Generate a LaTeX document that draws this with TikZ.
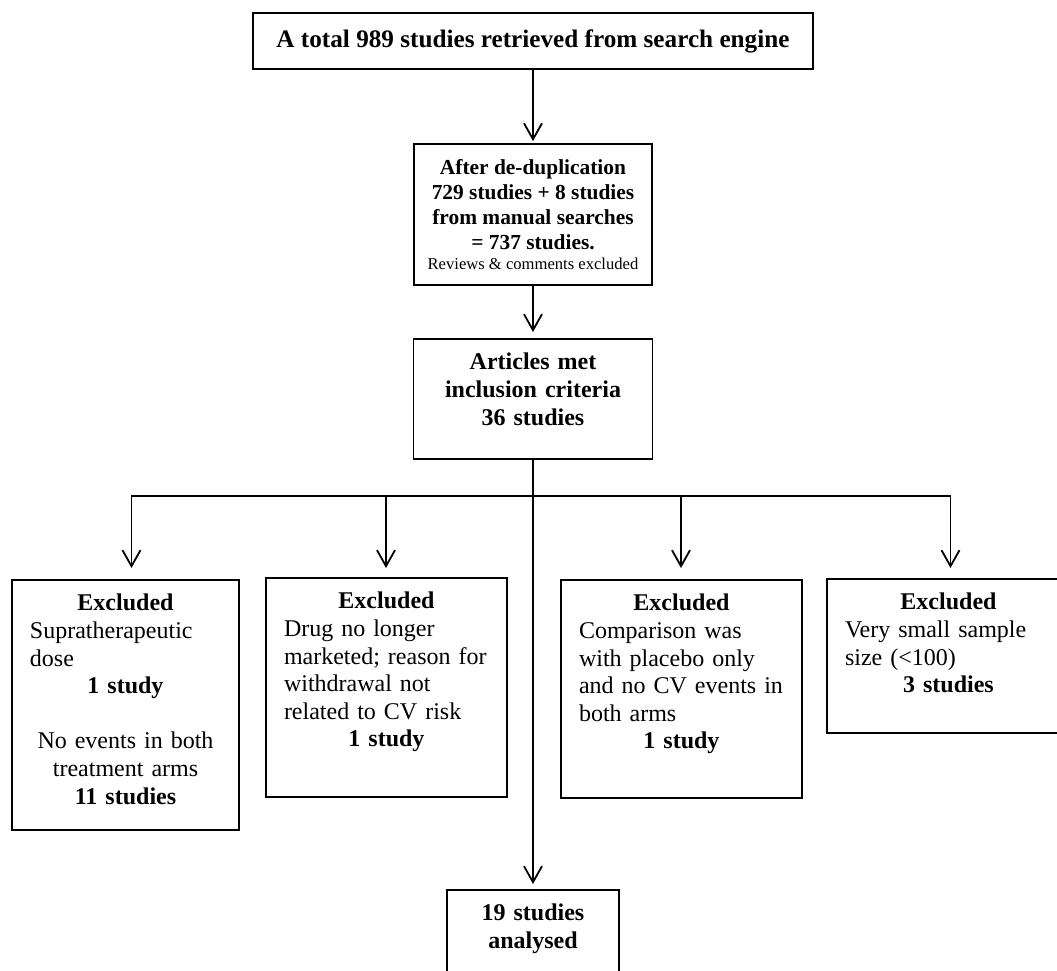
\documentclass[tikz,border=0pt]{standalone}
\usepackage{fontspec}
\setmainfont{Liberation Serif}
\usepackage{tikz}
\usetikzlibrary{arrows.meta,positioning}
\newcommand{\flowfont}{\fontsize{12}{13.8}\selectfont}
\tikzset{barb/.tip={Straight Barb[length=8pt, width=9pt]}}

\begin{document}
\begin{tikzpicture}[x=0.5pt, y=-0.5pt,
  frame/.style={draw=black, line width=0.9pt, inner ysep=0pt, font=\flowfont},
  plain/.style={frame, align=center, inner xsep=0pt},
  hang/.style 2 args={frame, text width=#1, text height=15.5pt, text depth=#2},
  excl/.style 2 args={hang={#1}{#2}, align=left, inner xsep=9pt, anchor=north},
  arr/.style={-barb, line width=0.9pt},
  link/.style={line width=0.9pt}
]
  \useasboundingbox (0,0) rectangle (1057,971);

  \node[plain, minimum width=280pt, minimum height=28pt,
    font=\fontsize{12.6}{14.5}\selectfont\bfseries] (search) at (533,41)
    {A total 989 studies retrieved from search engine};
  \node[plain, minimum width=119pt, minimum height=70.5pt,
    font=\fontsize{10.7}{12.5}\selectfont\bfseries] (dedup) at (533,214.5)
    {After de-duplication\\729 studies + 8 studies\\from manual searches\\= 737 studies.\\[-2.5pt]
     {\fontsize{8.3}{10}\selectfont\mdseries Reviews \& comments excluded}};
  \node[hang={119.5pt}{44.5pt}, align=center, inner xsep=0pt, anchor=north,
    font=\flowfont\bfseries] (incl) at (533,338)
    {Articles met\\inclusion criteria\\36 studies};

  \node[excl={95.5pt}{109.5pt}] (ex1) at (125.5,579) {%
    \centerline{\bfseries Excluded}
    Supratherapeutic\\dose\par
    \centerline{\bfseries 1 study}
    \centerline{}
    \centerline{No events in both}
    \centerline{treatment arms}
    \centerline{\bfseries 11 studies}};
  \node[excl={102.5pt}{94pt}] (ex2) at (386.5,577) {%
    \centerline{\bfseries Excluded}
    Drug no longer\\marketed; reason for\\withdrawal not\\related to CV risk\par
    \centerline{\bfseries 1 study}};
  \node[excl={102.5pt}{93.5pt}] (ex3) at (681.5,579) {%
    \centerline{\bfseries Excluded}
    Comparison was\\with placebo only\\and no CV events in\\both arms\par
    \centerline{\bfseries 1 study}};
  \node[excl={103.5pt}{61.5pt}] (ex4) at (948.5,578) {%
    \centerline{\bfseries Excluded}
    Very small sample\\size (<100)\par
    \centerline{\bfseries 3 studies}};

  \node[hang={86pt}{70pt}, align=center, inner xsep=0pt, anchor=north,
    font=\flowfont\bfseries] (final) at (533,889) {19 studies\\analysed};

  % branch points on the split line
  \coordinate (b1) at (131.5,496);
  \coordinate (b2) at (386,496);
  \coordinate (b3) at (681,496);
  \coordinate (b4) at (950.5,496);

  \draw[arr, shorten >=1pt] (search) -- (dedup);
  \draw[arr, shorten >=3pt] (dedup) -- (incl);
  \draw[arr, shorten >=2.5pt] (incl) -- (final);
  \draw[barb-barb, line width=0.9pt, shorten <=5.5pt, shorten >=5pt]
    (b1 |- ex1.north) -- (b1) -- (b4) -- (b4 |- ex4.north);
  \draw[arr, shorten >=4.5pt] (b2) -- (b2 |- ex2.north);
  \draw[arr, shorten >=5.5pt] (b3) -- (b3 |- ex3.north);
\end{tikzpicture}
\end{document}
